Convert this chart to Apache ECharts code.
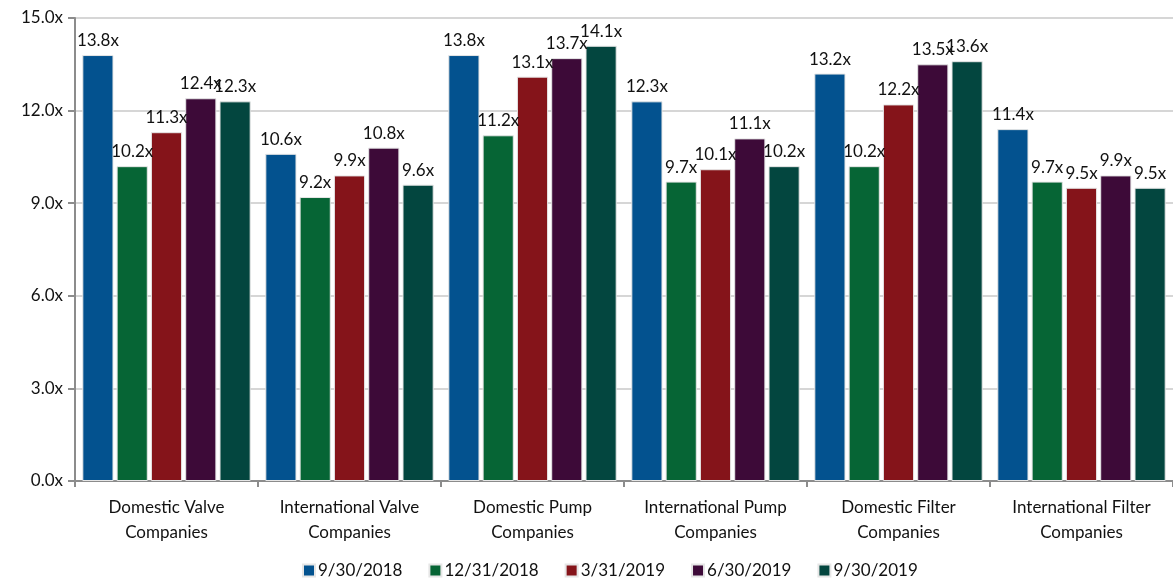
<!DOCTYPE html>
<html>
<head>
<meta charset="utf-8">
<script src="https://cdn.jsdelivr.net/npm/echarts@6/dist/echarts.min.js"></script>
<style>
  html, body { margin: 0; padding: 0; background: #fff; }
  #chart { width: 1173px; height: 586px; }
</style>
</head>
<body>
<div id="chart"></div>
<script>
const categories = [
  'Domestic Valve\nCompanies',
  'International Valve\nCompanies',
  'Domestic Pump\nCompanies',
  'International Pump\nCompanies',
  'Domestic Filter\nCompanies',
  'International Filter\nCompanies',
];
const seriesNames = ['9/30/2018', '12/31/2018', '3/31/2019', '6/30/2019', '9/30/2019'];
const seriesColors = ['#03528f', '#066535', '#85141a', '#3d0a38', '#03463f'];
const q3_2018 = [13.8, 10.6, 13.8, 12.3, 13.2, 11.4];
const q4_2018 = [10.2, 9.2, 11.2, 9.7, 10.2, 9.7];
const q1_2019 = [11.3, 9.9, 13.1, 10.1, 12.2, 9.5];
const q2_2019 = [12.4, 10.8, 13.7, 11.1, 13.5, 9.9];
const q3_2019 = [12.3, 9.6, 14.1, 10.2, 13.6, 9.5];
const seriesData = [q3_2018, q4_2018, q1_2019, q2_2019, q3_2019];

const font = 'Lato, "DejaVu Sans", sans-serif';
const chart = echarts.init(document.getElementById('chart'), null, { renderer: 'canvas' });

const series = seriesNames.map((name, i) => ({
  name,
  type: 'bar',
  data: seriesData[i],
  barGap: '10%',
  barCategoryGap: '8%',
  itemStyle: { color: seriesColors[i], borderColor: '#e6e6e6', borderWidth: 1 },
  label: {
    show: true,
    position: 'top',
    distance: 6,
    color: '#111',
    fontFamily: font,
    fontSize: 17,
    formatter: (p) => p.value.toFixed(1) + 'x',
  },
}));

chart.setOption({
  backgroundColor: '#fff',
  animation: false,
  grid: { left: 75, top: 18, width: 1106, height: 463 },
  legend: {
    bottom: 2,
    left: 297,
    itemWidth: 12,
    itemHeight: 12,
    itemGap: 26,
    icon: 'rect',
    textStyle: { color: '#111', fontFamily: font, fontSize: 17, padding: [0, 0, 0, -2] },
    data: seriesNames,
  },
  xAxis: {
    type: 'category',
    data: categories,
    boundaryGap: true,
    axisLine: { lineStyle: { color: '#8c8c8c', width: 2 } },
    axisTick: { show: true, length: 6, lineStyle: { color: '#8c8c8c', width: 2 } },
    axisLabel: { color: '#111', fontFamily: font, fontSize: 17, lineHeight: 25, margin: 14, interval: 0 },
  },
  yAxis: {
    type: 'value',
    min: 0,
    max: 15,
    interval: 3,
    axisLine: { show: true, lineStyle: { color: '#8c8c8c', width: 2 } },
    axisTick: { show: true, length: 7, lineStyle: { color: '#8c8c8c', width: 2 } },
    splitLine: { lineStyle: { color: '#c8c8c8', width: 1.5 } },
    axisLabel: { color: '#111', fontFamily: font, fontSize: 17, margin: 12, formatter: (v) => v.toFixed(1) + 'x' },
  },
  series,
});
</script>
</body>
</html>
